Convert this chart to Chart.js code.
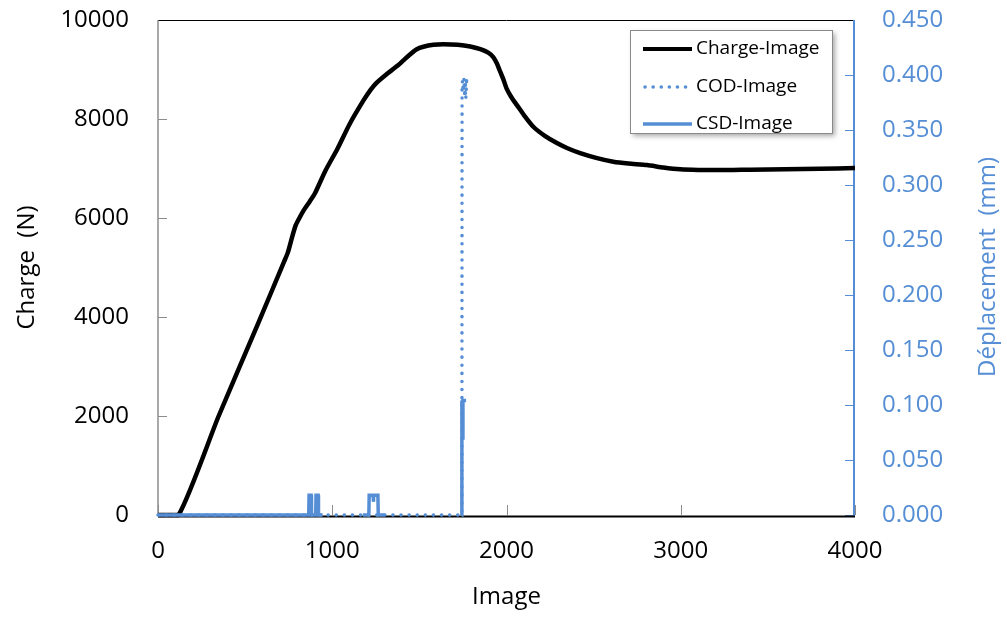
<!DOCTYPE html>
<html><head><meta charset="utf-8">
<script src="https://cdn.jsdelivr.net/npm/chart.js@4/dist/chart.umd.min.js"></script>
<style>html,body{margin:0;padding:0;background:#fff;overflow:hidden}</style>
</head><body>
<canvas id="c" width="1007" height="617"></canvas>
<script>
// ---- data ----
const chargeX = [0, 118, 347, 576, 720, 745, 770, 790, 810, 835, 870, 901, 960, 1030, 1100, 1180, 1220, 1254, 1310, 1372, 1410, 1448, 1485, 1523, 1580, 1637, 1720, 1792, 1850, 1895, 1924, 1945, 1960, 1982, 2000, 2030, 2060, 2100, 2154, 2220, 2289, 2350, 2423, 2520, 2613, 2700, 2806, 2900, 2997, 3100, 3187, 3300, 3400, 3600, 3800, 4000];
const chargeY = [0, 0, 1990, 3880, 5090, 5300, 5620, 5850, 5990, 6150, 6330, 6500, 6950, 7400, 7900, 8380, 8590, 8730, 8900, 9070, 9190, 9310, 9410, 9460, 9500, 9510, 9500, 9465, 9410, 9340, 9250, 9120, 8990, 8800, 8620, 8430, 8280, 8080, 7844, 7660, 7514, 7410, 7312, 7210, 7137, 7100, 7070, 7020, 6983, 6970, 6969, 6972, 6975, 6985, 6995, 7010];

const codX = [0, 1744, 1745, 1748, 1752, 1756, 1760, 1764, 1768, 1772, 1766, 1762, 1776];
const codY = [0, 0, 0.390, 0.395, 0.385, 0.397, 0.380, 0.392, 0.386, 0.398, 0.378, 0.390, 0.395];

const csdX = [0, 865, 867, 879, 881, 905, 907, 919, 921, 945, 1060, 1175, 1210, 1212, 1234, 1236, 1238, 1262, 1264, 1300, 1520, 1742, 1744, 1748, 1750, 1768];
const csdY = [0, 0, 0.018, 0.018, 0, 0, 0.018, 0.018, 0, 0, null, 0, 0, 0.018, 0.018, 0.012, 0.018, 0.018, 0, 0, null, 0, 0.104, 0.070, 0.104, 0.104];

const xTicks = [0, 1000, 2000, 3000, 4000];
const yTicks = [0, 2000, 4000, 6000, 8000, 10000];
const y2Ticks = [0, 0.05, 0.10, 0.15, 0.20, 0.25, 0.30, 0.35, 0.40, 0.45];

const seriesNames = ['Charge-Image', 'COD-Image', 'CSD-Image'];
// ------------------------------------------------

const BLUE = '#558ED5';
const FONT = '"Open Sans", "Noto Sans", sans-serif';
const toPts = (xs, ys) => xs.map((x, i) => ({x: x, y: ys[i]}));

const framePlugin = {
  id: 'frame',
  beforeDatasetsDraw(chart) {
    const {ctx, chartArea: a, scales} = chart;
    ctx.save();
    // ticks (inward)
    ctx.lineWidth = 1;
    ctx.strokeStyle = '#8C8C8C';
    yTicks.forEach(v => {
      const y = Math.round(scales.y.getPixelForValue(v)) + 0.5;
      ctx.beginPath(); ctx.moveTo(a.left, y); ctx.lineTo(a.left + 9, y); ctx.stroke();
    });
    xTicks.forEach(v => {
      const x = Math.round(scales.x.getPixelForValue(v)) + 0.5;
      ctx.beginPath(); ctx.moveTo(x, a.bottom); ctx.lineTo(x, a.bottom - 10); ctx.stroke();
    });
    ctx.strokeStyle = BLUE;
    y2Ticks.forEach(v => {
      const y = Math.round(scales.y2.getPixelForValue(v)) + 0.5;
      ctx.beginPath(); ctx.moveTo(a.right, y); ctx.lineTo(a.right - 10, y); ctx.stroke();
    });
    // frame lines
    ctx.strokeStyle = '#000'; ctx.lineWidth = 1;
    ctx.beginPath(); ctx.moveTo(a.left, a.top + 0.5); ctx.lineTo(a.right, a.top + 0.5); ctx.stroke();
    ctx.strokeStyle = '#8C8C8C'; ctx.lineWidth = 1.5;
    ctx.beginPath(); ctx.moveTo(a.left, a.top); ctx.lineTo(a.left, a.bottom + 1); ctx.stroke();
    ctx.strokeStyle = BLUE; ctx.lineWidth = 2;
    ctx.beginPath(); ctx.moveTo(a.right - 1, a.top); ctx.lineTo(a.right - 1, a.bottom + 1); ctx.stroke();
    ctx.strokeStyle = '#000'; ctx.lineWidth = 2;
    ctx.beginPath(); ctx.moveTo(a.left, a.bottom + 1.5); ctx.lineTo(a.right, a.bottom + 1.5); ctx.stroke();
    ctx.restore();
  },
  afterDraw(chart) {
    const {ctx} = chart;
    ctx.save();
    // right axis title, reading bottom to top
    ctx.translate(988, 267);
    ctx.rotate(-Math.PI / 2);
    ctx.fillStyle = BLUE;
    ctx.font = '24px ' + FONT;
    ctx.textAlign = 'center';
    ctx.textBaseline = 'middle';
    ctx.fillText('Déplacement  (mm)', 0, 0);
    ctx.restore();

    // legend box
    const bx = 630, by = 30, bw = 202, bh = 103;
    ctx.save();
    ctx.shadowColor = 'rgba(0,0,0,0.35)';
    ctx.shadowBlur = 5; ctx.shadowOffsetX = 3; ctx.shadowOffsetY = 3;
    ctx.fillStyle = '#fff';
    ctx.fillRect(bx, by, bw, bh);
    ctx.restore();
    ctx.save();
    ctx.strokeStyle = '#8A8A8A'; ctx.lineWidth = 1;
    ctx.strokeRect(bx + 0.5, by + 0.5, bw, bh);
    const rows = [49, 87, 124];
    chart.data.datasets.forEach((ds, i) => {
      ctx.save();
      ctx.strokeStyle = ds.borderColor;
      ctx.lineWidth = Math.min(ds.borderWidth, 4);
      ctx.lineCap = ds.borderCapStyle || 'butt';
      if (ds.borderDash) ctx.setLineDash(ds.borderDash);
      ctx.beginPath();
      ctx.moveTo(ds.borderDash ? 645 : 643, rows[i]);
      ctx.lineTo(692, rows[i]);
      ctx.stroke();
      ctx.restore();
      ctx.fillStyle = '#000';
      ctx.font = '19px ' + FONT;
      ctx.textAlign = 'left';
      ctx.textBaseline = 'middle';
      ctx.fillText(seriesNames[i], 696, rows[i]);
    });
    ctx.restore();
  }
};

const hiddenGrid = len => ({display: true, drawOnChartArea: false, drawTicks: true, tickLength: len, color: 'rgba(0,0,0,0)'});

new Chart(document.getElementById('c'), {
  type: 'line',
  data: {
    datasets: [
      {label: seriesNames[0], data: toPts(chargeX, chargeY), yAxisID: 'y', borderColor: '#000', borderWidth: 4.5,
       borderJoinStyle: 'round', pointRadius: 0, tension: 0.2, order: 3, clip: 6},
      {label: seriesNames[1], data: toPts(codX, codY), yAxisID: 'y2', borderColor: BLUE, borderWidth: 3.5,
       borderDash: [0.1, 8], borderCapStyle: 'round', pointRadius: 0, tension: 0, order: 2, clip: 6},
      {label: seriesNames[2], data: toPts(csdX, csdY), yAxisID: 'y2', borderColor: BLUE, borderWidth: 3.5,
       pointRadius: 0, tension: 0, spanGaps: false, order: 1, clip: 6}
    ]
  },
  options: {
    responsive: false,
    animation: false,
    events: [],
    layout: {padding: {top: 20, left: 0, right: 0, bottom: 0}},
    plugins: {legend: {display: false}, tooltip: {enabled: false}},
    scales: {
      x: {
        type: 'linear', min: 0, max: 4000,
        afterBuildTicks: s => { s.ticks = xTicks.map(v => ({value: v})); },
        afterFit: s => { s.height = 102; },
        grid: hiddenGrid(22),
        border: {display: false},
        ticks: {color: '#000', font: {family: FONT, size: 24}, padding: 0, maxRotation: 0, callback: v => String(v)},
        title: {display: true, text: 'Image', color: '#000', font: {family: FONT, size: 24}, padding: {top: 0, bottom: 5}}
      },
      y: {
        type: 'linear', position: 'left', min: 0, max: 10000,
        afterBuildTicks: s => { s.ticks = yTicks.map(v => ({value: v})); },
        afterFit: s => { s.width = 158; },
        grid: hiddenGrid(29),
        border: {display: false},
        ticks: {color: '#000', font: {family: FONT, size: 24}, padding: 0, callback: v => String(v)},
        title: {display: true, text: 'Charge  (N)', color: '#000', font: {family: FONT, size: 24}, padding: {top: 13, bottom: 0}}
      },
      y2: {
        type: 'linear', position: 'right', min: 0, max: 0.45,
        afterBuildTicks: s => { s.ticks = y2Ticks.map(v => ({value: v})); },
        afterFit: s => { s.width = 152; },
        grid: hiddenGrid(27),
        border: {display: false},
        ticks: {color: BLUE, font: {family: FONT, size: 24}, padding: 0, callback: v => Number(v).toFixed(3)}
      }
    }
  },
  plugins: [framePlugin]
});
</script>
</body></html>
